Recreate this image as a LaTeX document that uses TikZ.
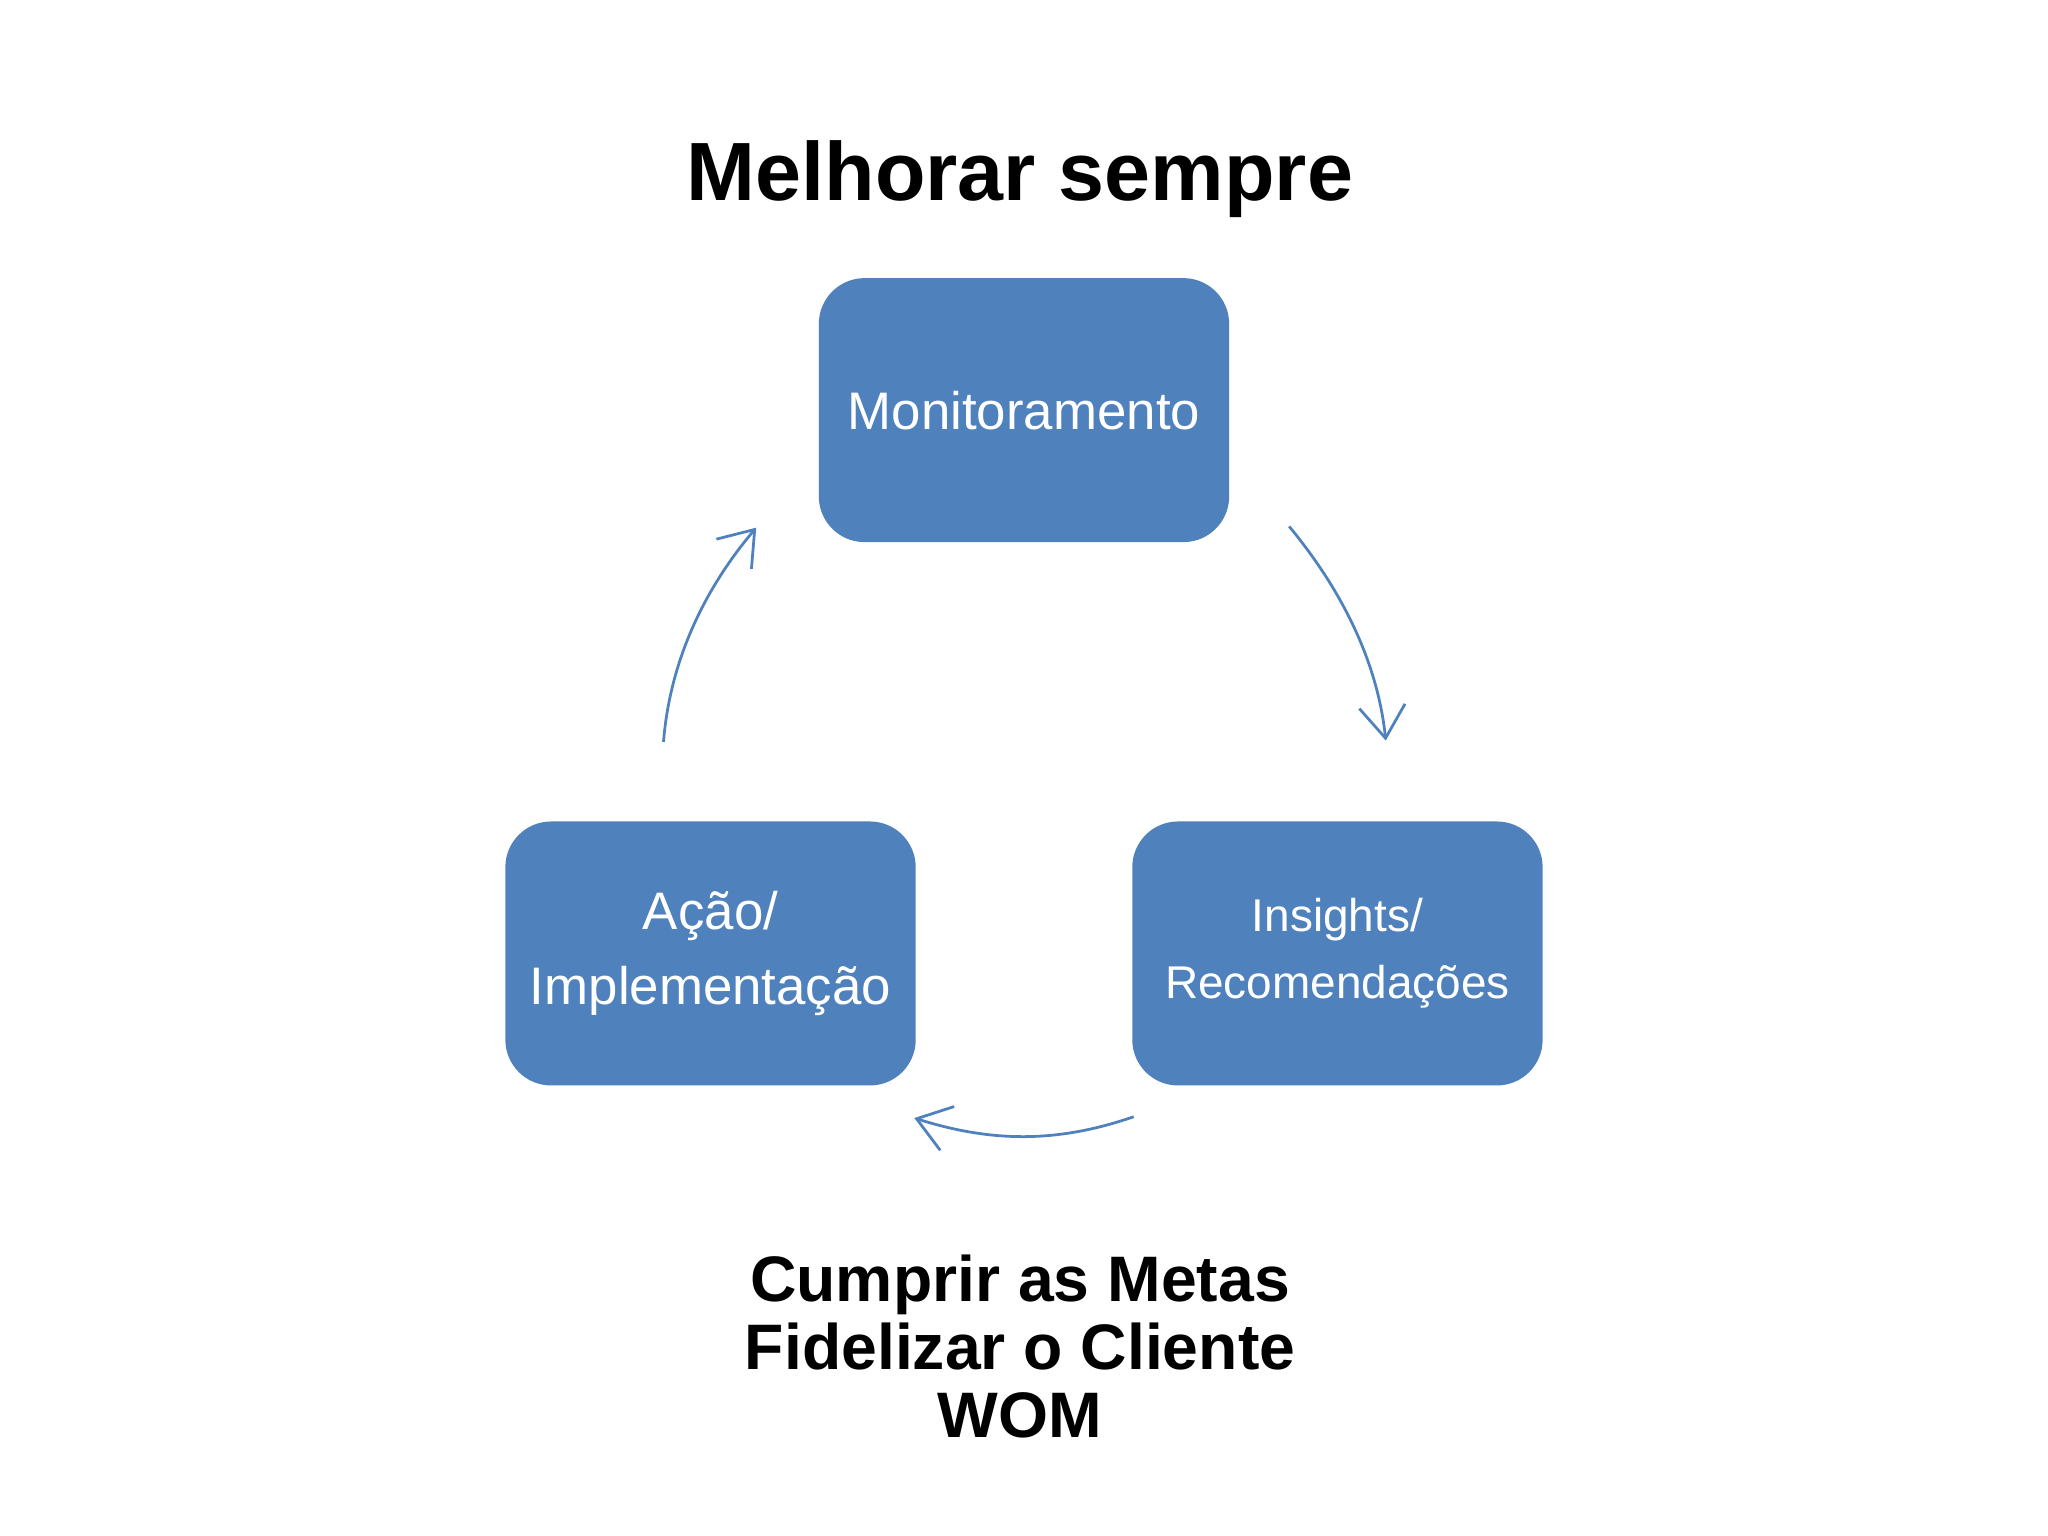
\documentclass[tikz,border=0pt]{standalone}
\usepackage{fontspec}
\setmainfont{Liberation Sans}
\usetikzlibrary{arrows.meta}
\definecolor{boxblue}{HTML}{4F81BD}
\begin{document}
\begin{tikzpicture}[x=0.01cm,y=-0.01cm,
  box/.style={draw=none,fill=boxblue,rounded corners=0.35cm,minimum width=3.14cm,minimum height=2.02cm,text=white,align=center,inner sep=0pt},
  arr/.style={draw=boxblue,line width=0.6pt,-{Straight Barb[length=7pt,width=10pt]}}]
\useasboundingbox (0,0) rectangle (1568,1176);
\node[font=\bfseries\fontsize{18}{22}\selectfont] (title) at (781,137) {Melhorar sempre};
\node[box,font=\fontsize{11.5}{14}\selectfont] (mon) at (784,314) {Monitoramento};
\node[box,font=\fontsize{11.5}{16.5}\selectfont] (acao) at (544,730) {Ação/\\Implementação};
\node[box,font=\fontsize{10}{14.5}\selectfont] (ins) at (1024,730) {Insights/\\Recomendações};
\coordinate (r1) at (987,403); \coordinate (r2) at (1061,567);
\coordinate (l1) at (508,568); \coordinate (l2) at (579,404);
\coordinate (b1) at (868,855); \coordinate (b2) at (700,856);
\draw[arr] (r1) .. controls (1030,455) and (1055,510) .. (r2);
\draw[arr] (l1) .. controls (513,505) and (540,450) .. (l2);
\draw[arr] (b1) .. controls (810,875) and (760,875) .. (b2);
\node[font=\bfseries\fontsize{14}{14.8}\selectfont,align=center] (goals) at (781,1031) {Cumprir as Metas\\Fidelizar o Cliente\\WOM};
\end{tikzpicture}
\end{document}
